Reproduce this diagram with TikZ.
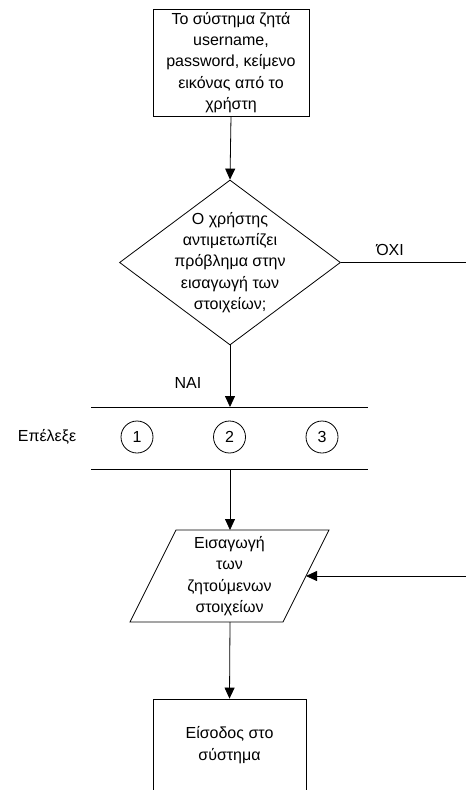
\documentclass[tikz,border=0pt]{standalone}
\usepackage{fontspec}
\setmainfont{Liberation Sans}
\usetikzlibrary{arrows.meta,shapes.geometric}
\begin{document}
\begin{tikzpicture}[x=1bp,y=-1bp,
  every node/.style={font=\fontsize{16bp}{21.3bp}\selectfont},
  ln/.style={line width=0.8bp},
  arr/.style={ln,-{Triangle[length=11bp,width=10bp]}},
  txt/.style={align=center,inner sep=0},
  boxr/.style={draw,ln,rectangle,inner sep=0},
  dia/.style={draw,ln,diamond,inner sep=0,minimum width=221bp,minimum height=165bp},
  circ/.style={draw,ln,circle,inner sep=0,minimum size=32bp}]
\useasboundingbox (0,0) rectangle (466,790);
% top box
\node[boxr,minimum width=156bp,minimum height=107bp] (b1) at (231,62.5) {};
\node[txt] (t1) at (b1.center) {Το σύστημα ζητά\\username,\\password, κείμενο\\εικόνας από το\\χρήστη};
% diamond
\node[dia] (d) at (230,262.5) {};
\node[txt] (td) at (d.center) {Ο χρήστης\\αντιμετωπίζει\\πρόβλημα στην\\εισαγωγή των\\στοιχείων;};
\draw[arr] (b1.south) -- (d.north);
% OXI
\coordinate (oxiend) at (466,262.5);
\draw[ln] (d.east) -- (oxiend);
\node[txt] (oxi) at (390,250) {ΌΧΙ};
% selection band
\coordinate (l1a) at (91,407);
\coordinate (l1b) at (368,407);
\coordinate (l2a) at (91,469);
\coordinate (l2b) at (368,469);
\draw[ln] (l1a) -- (l1b);
\draw[ln] (l2a) -- (l2b);
\coordinate (in1) at (230,407);
\coordinate (out1) at (230,469);
\draw[arr] (d.south) -- (in1);
\node[txt] (nai) at (188,383) {ΝΑΙ};
\node[txt] (sel) at (47,437) {Επέλεξε};
\node[circ] (c1) at (137,437) {1};
\node[circ] (c2) at (229.5,437) {2};
\node[circ] (c3) at (322,437) {3};
% parallelogram
\coordinate (ptl) at (176,530);
\coordinate (ptr) at (329,530);
\coordinate (pbr) at (283,622);
\coordinate (pbl) at (130,622);
\draw[ln] (ptl) -- (ptr) -- (pbr) -- (pbl) -- cycle;
\coordinate (ptop) at (230,530);
\coordinate (pright) at (306,576);
\coordinate (pbot) at (230,622);
\node[txt] (tp) at (229.5,576) {Εισαγωγή\\των\\ζητούμενων\\στοιχείων};
\draw[arr] (out1) -- (ptop);
\coordinate (retstart) at (466,576);
\draw[arr] (retstart) -- (pright);
% bottom box
\node[boxr,minimum width=153bp,minimum height=120bp] (b2) at (229.5,759) {};
\node[txt] (t2) at (229.5,745) {Είσοδος στο\\σύστημα};
\draw[arr] (pbot) -- (b2.north);
\end{tikzpicture}
\end{document}
